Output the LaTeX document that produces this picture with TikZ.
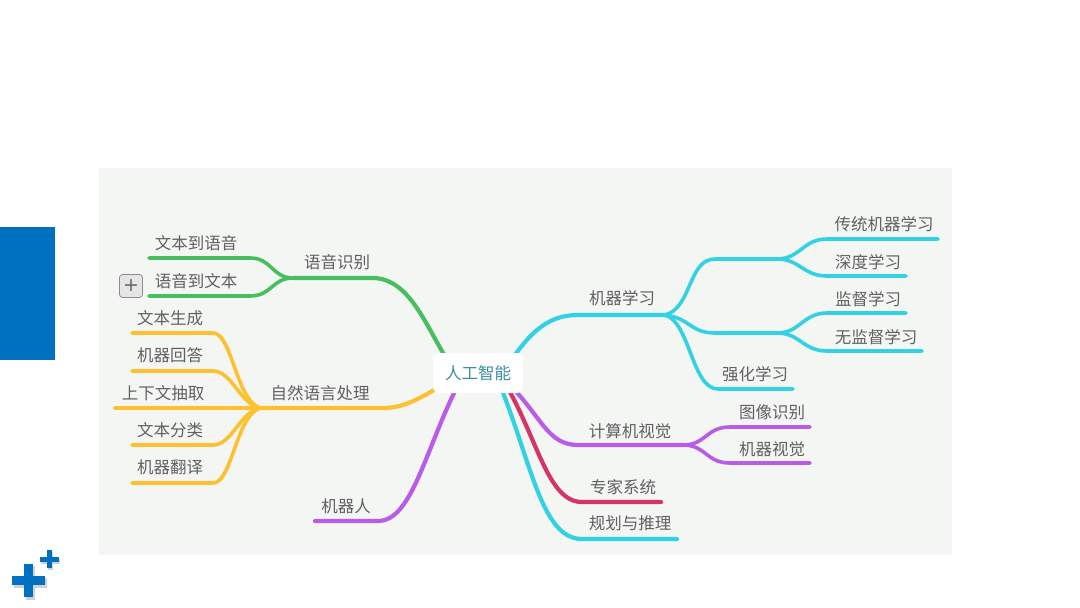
\documentclass[tikz,border=0pt]{standalone}
\usepackage{fontspec}
\newfontfamily\cjk{Noto Sans CJK SC}
\newfontfamily\djv{DejaVu Sans}
\definecolor{panel}{RGB}{244,246,244}
\definecolor{cgreen}{RGB}{72,190,95}
\definecolor{cyellow}{RGB}{253,192,47}
\definecolor{cpurple}{RGB}{186,92,232}
\definecolor{ccyan}{RGB}{50,210,228}
\definecolor{cred}{RGB}{213,52,105}
\definecolor{txt}{RGB}{96,96,96}
\definecolor{ctxt}{RGB}{60,140,160}
\definecolor{cblue}{RGB}{0,112,192}
\tikzset{
  lbl/.style={inner sep=0pt, text=txt, font=\cjk\fontsize{16.5}{18}\selectfont},
  mainline/.style={line width=4.2pt, line cap=round},
  subline/.style={line width=3.6pt, line cap=round},
  centerbox/.style={fill=white, rounded corners=6pt, minimum width=90pt, minimum height=40pt, inner sep=0pt, text=ctxt, font=\cjk\fontsize{16.5}{18}\selectfont},
  plusbox/.style={draw=black!45, fill=black!10, rounded corners=3pt, line width=0.8pt, minimum width=23pt, minimum height=23pt, inner sep=0pt, text=black!60, font=\djv\fontsize{19}{19}\selectfont},
  bluebar/.style={fill=cblue, draw=none},
  shadowbar/.style={fill=black!18, draw=none}
}
\begin{document}
\begin{tikzpicture}[x=1pt,y=-1pt]
\useasboundingbox (0,0) rectangle (1080,608);
% background
\fill[white] (0,0) rectangle (1080,608);
\fill[panel] (99,168) rectangle (952,555);
\fill[cblue] (0,227) rectangle (55,360);
% plus signs
\fill[shadowbar] (13.5,578) rectangle (46.5,587.5);
\fill[shadowbar] (25.5,566) rectangle (34.5,599.5);
\fill[bluebar] (12,576) rectangle (45,585);
\fill[bluebar] (24,564) rectangle (33,597);
\fill[shadowbar] (41,558.5) rectangle (60,563.5);
\fill[shadowbar] (48,551.5) rectangle (53,569.5);
\fill[bluebar] (40,557) rectangle (59,562);
\fill[bluebar] (47,550) rectangle (52,568);

% coordinates: branch starts near centre
\coordinate (gs) at (452,368);
\coordinate (ys) at (448,382);
\coordinate (ps) at (458,385);
\coordinate (cs) at (508,365);
\coordinate (vs) at (510,385);
\coordinate (rs) at (506,385);
\coordinate (ks) at (500,385);
% fork points
\coordinate (gf) at (293,278);
\coordinate (yf) at (260,408);
\coordinate (cf) at (665,315);
\coordinate (cfa) at (777,259);
\coordinate (cfb) at (777,333);
\coordinate (vf) at (683,445);
% leaf ends
\coordinate (g1) at (149,258);
\coordinate (g2) at (149,296);
\coordinate (y1) at (132,333);
\coordinate (y2) at (132,371);
\coordinate (y3) at (115,408);
\coordinate (y4) at (132,445);
\coordinate (y5) at (132,483);
\coordinate (pe) at (315,521);
\coordinate (c1) at (938,239);
\coordinate (c2) at (906,276);
\coordinate (c3) at (906,313);
\coordinate (c4) at (922,351);
\coordinate (c5) at (793,389);
\coordinate (v1) at (810,427);
\coordinate (v2) at (810,463);
\coordinate (re) at (661,502);
\coordinate (ke) at (677,539);

% green branch
\draw[mainline, cgreen] (gs) .. controls (425,325) and (410,278) .. (372,278) -- (gf);
\draw[subline, cgreen] (gf) .. controls (272,278) and (272,258) .. (250,258) -- (g1);
\draw[subline, cgreen] (gf) .. controls (272,278) and (272,296) .. (250,296) -- (g2);
% yellow branch
\draw[mainline, cyellow] (ys) .. controls (420,398) and (405,408) .. (383,408) -- (yf);
\draw[subline, cyellow] (yf) .. controls (236,400) and (232,333) .. (213,333) -- (y1);
\draw[subline, cyellow] (yf) .. controls (240,404) and (232,371) .. (213,371) -- (y2);
\draw[subline, cyellow] (yf) -- (y3);
\draw[subline, cyellow] (yf) .. controls (240,412) and (232,445) .. (213,445) -- (y4);
\draw[subline, cyellow] (yf) .. controls (236,416) and (232,483) .. (213,483) -- (y5);
% purple robot
\draw[mainline, cpurple] (ps) .. controls (425,450) and (412,521) .. (378,521) -- (pe);
% cyan machine learning
\draw[mainline, ccyan] (cs) .. controls (530,332) and (548,315) .. (578,315) -- (cf);
\draw[subline, ccyan] (cf) .. controls (692,308) and (688,259) .. (715,259) -- (cfa);
\draw[subline, ccyan] (cf) .. controls (690,318) and (690,333) .. (715,333) -- (cfb);
\draw[subline, ccyan] (cf) .. controls (690,322) and (692,389) .. (718,389) -- (c5);
\draw[subline, ccyan] (cfa) .. controls (800,259) and (803,239) .. (827,239) -- (c1);
\draw[subline, ccyan] (cfa) .. controls (800,259) and (803,276) .. (827,276) -- (c2);
\draw[subline, ccyan] (cfb) .. controls (800,333) and (803,313) .. (827,313) -- (c3);
\draw[subline, ccyan] (cfb) .. controls (800,333) and (803,351) .. (827,351) -- (c4);
% cyan planning
\draw[mainline, ccyan] (ks) .. controls (532,465) and (542,539) .. (582,539) -- (ke);
% red expert
\draw[mainline, cred] (rs) .. controls (538,440) and (548,502) .. (582,502) -- (re);
% purple vision
\draw[mainline, cpurple] (vs) .. controls (542,418) and (548,445) .. (578,445) -- (vf);
\draw[subline, cpurple] (vf) .. controls (706,445) and (706,427) .. (730,427) -- (v1);
\draw[subline, cpurple] (vf) .. controls (706,445) and (706,463) .. (730,463) -- (v2);

% central node
\node[centerbox] (ai) at (478,373) {人工智能};

% labels
\node[lbl] (l-yysb) at (337,262) {语音识别};
\node[lbl] (l-wbdyy) at (196,243) {文本到语音};
\node[lbl] (l-yydwb) at (196,281) {语音到文本};
\node[plusbox] (plus) at (131,286) {+};
\node[lbl] (l-zryy) at (320,393) {自然语言处理};
\node[lbl] (l-wbsc) at (170,318) {文本生成};
\node[lbl] (l-jqhd) at (170,355) {机器回答};
\node[lbl] (l-sxw) at (163,393) {上下文抽取};
\node[lbl] (l-wbfl) at (170,430) {文本分类};
\node[lbl] (l-jqfy) at (170,467) {机器翻译};
\node[lbl] (l-jqr) at (346,506) {机器人};
\node[lbl] (l-jqxx) at (622,298) {机器学习};
\node[lbl] (l-ctjq) at (884,224) {传统机器学习};
\node[lbl] (l-sdxx) at (868,262) {深度学习};
\node[lbl] (l-jdxx) at (868,299) {监督学习};
\node[lbl] (l-wjd) at (876,337) {无监督学习};
\node[lbl] (l-qhxx) at (755,374) {强化学习};
\node[lbl] (l-jsj) at (630,431) {计算机视觉};
\node[lbl] (l-txsb) at (772,412) {图像识别};
\node[lbl] (l-jqsj) at (772,449) {机器视觉};
\node[lbl] (l-zjxt) at (623,487) {专家系统};
\node[lbl] (l-ghtl) at (630,523) {规划与推理};
\end{tikzpicture}
\end{document}
